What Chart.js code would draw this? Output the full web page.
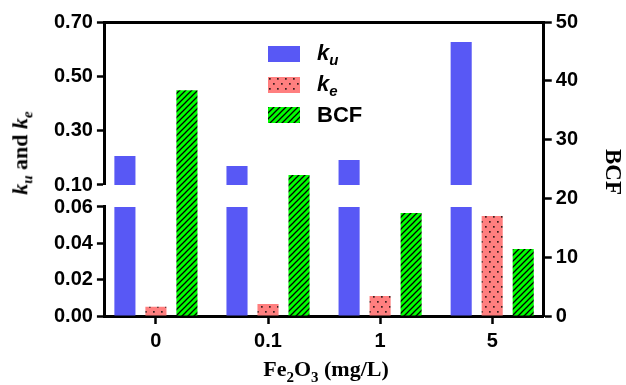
<!DOCTYPE html>
<html>
<head>
<meta charset="utf-8">
<script src="https://cdn.jsdelivr.net/npm/chart.js@4"></script>
<style>
body { margin: 0; background: #fff; }
#wrap { position: relative; width: 626px; height: 385px; }
#legend { position: absolute; left: 268px; top: 39px; font-family: "Liberation Sans", Arial, sans-serif; font-weight: bold; font-size: 22px; color: #000; }
.item { height: 30.5px; display: flex; align-items: center; }
.item canvas { width: 32px; height: 16px; margin-right: 17px; }
.item i sub { font-size: 15px; }
.title { position: absolute; font-family: "Liberation Serif", "Times New Roman", serif; font-weight: bold; font-size: 22px; white-space: nowrap; color: #000; transform: translate(-50%, -50%); }
.title sub { font-size: 15px; }
#ytitle { left: 22px; top: 153px; transform: translate(-50%, -50%) rotate(-90deg); }
#y2title { left: 613px; top: 172px; font-size: 23px; transform: translate(-50%, -50%) rotate(90deg); }
#xtitle { left: 326px; top: 371px; }
</style>
</head>
<body>
<div id="wrap">
  <canvas id="myChart"></canvas>
  <div id="legend"></div>
  <div class="title" id="ytitle"><i>k<sub>u</sub></i> and <i>k<sub>e</sub></i></div>
  <div class="title" id="y2title">BCF</div>
  <div class="title" id="xtitle">Fe<sub>2</sub>O<sub>3</sub> (mg/L)</div>
</div>
<script>
// values
var categories = ["0", "0.1", "1", "5"];
var kuValues = [0.207, 0.170, 0.192, 0.626];
var keValues = [0.0051, 0.0066, 0.011, 0.055];
var bcfValues = [38.4, 24.0, 17.5, 11.4];
var upperTicks = [0.10, 0.30, 0.50, 0.70];
var lowerTicks = [0.00, 0.02, 0.04, 0.06];
var bcfTicks = [0, 10, 20, 30, 40, 50];

function makePattern(kind) {
    var c = document.createElement('canvas');
    var g = c.getContext('2d');
    if (kind === 'dots') {
        c.width = 8; c.height = 10;
        g.fillStyle = '#ff7f7f';
        g.fillRect(0, 0, 8, 10);
        g.fillStyle = '#3a1c1c';
        g.fillRect(1, 1, 1.7, 1.7);
        g.fillRect(5, 6, 1.7, 1.7);
    } else {
        c.width = 6; c.height = 6;
        g.fillStyle = '#00ff00';
        g.fillRect(0, 0, 6, 6);
        g.strokeStyle = '#000';
        g.lineWidth = 1.3;
        g.beginPath();
        g.moveTo(-1, 7); g.lineTo(7, -1);
        g.moveTo(-4, 4); g.lineTo(4, -4);
        g.moveTo(2, 10); g.lineTo(10, 2);
        g.stroke();
    }
    return g.createPattern(c, 'repeat');
}

var kuColor = '#5858f5';
var keFill = makePattern('dots');
var bcfFill = makePattern('hatch');

var tickFont = { family: "'Liberation Sans', Arial, sans-serif", weight: 'bold', size: 20 };
var tickGrid = { display: true, drawOnChartArea: false, tickLength: 8, tickWidth: 2.5, tickColor: '#000', offset: false };
var axisBorder = { display: true, width: 3, color: '#000' };

function fixedTicks(list) {
    return function (scale) {
        scale.ticks = list.map(function (v) { return { value: v }; });
    };
}

// x runs on category positions 0..3 so the end gaps can match the figure
function points(values) {
    return values.map(function (v, i) { return { x: i, y: v }; });
}

// legend (html so the subscripts come out right)
var legendItems = [
    { fill: kuColor, html: '<i>k<sub>u</sub></i>' },
    { fill: keFill, html: '<i>k<sub>e</sub></i>' },
    { fill: bcfFill, html: 'BCF' }
];
legendItems.forEach(function (it) {
    var row = document.createElement('div');
    row.className = 'item';
    var sw = document.createElement('canvas');
    sw.width = 32; sw.height = 16;
    var g = sw.getContext('2d');
    g.fillStyle = it.fill;
    g.fillRect(0, 0, 32, 16);
    row.appendChild(sw);
    var t = document.createElement('span');
    t.innerHTML = it.html;
    row.appendChild(t);
    document.getElementById('legend').appendChild(row);
});

var barOpts = { categoryPercentage: 0.83, barPercentage: 0.68, borderWidth: 0, clip: 0 };
var leftTicks = { color: '#000', font: tickFont, padding: 4, autoSkip: false,
    callback: function (v) { return v.toFixed(2); } };

var chart = new Chart(document.getElementById('myChart'), {
    type: 'bar',
    data: {
        datasets: [
            Object.assign({ label: 'ku', data: points(kuValues), backgroundColor: kuColor, yAxisID: 'yUp', stack: 'ku' }, barOpts),
            Object.assign({ label: 'ku', data: points(kuValues), backgroundColor: kuColor, yAxisID: 'yLow', stack: 'ku' }, barOpts),
            Object.assign({ label: 'ke', data: points(keValues), backgroundColor: keFill, yAxisID: 'yLow', stack: 'ke' }, barOpts),
            Object.assign({ label: 'BCF', data: points(bcfValues), backgroundColor: bcfFill, yAxisID: 'y2', stack: 'bcf' }, barOpts)
        ]
    },
    options: {
        responsive: true,
        maintainAspectRatio: false,
        animation: false,
        layout: { padding: { left: 50, right: 44, top: 22, bottom: 27 } },
        plugins: { legend: { display: false }, tooltip: { enabled: false } },
        scales: {
            x: {
                type: 'linear', offset: false, min: -0.455, max: 3.46,
                afterBuildTicks: fixedTicks([0, 1, 2, 3]),
                grid: tickGrid,
                border: axisBorder,
                ticks: { color: '#000', font: tickFont, padding: 5, autoSkip: false,
                    callback: function (v) { return categories[v]; } }
            },
            xTop: {
                type: 'linear', axis: 'x', position: 'top',
                grid: { display: false, drawTicks: false },
                ticks: { display: false },
                border: axisBorder
            },
            yLow: {
                type: 'linear', position: 'left', stack: 'left', stackWeight: 109, weight: 1,
                min: 0, max: 0.06, stacked: false,
                afterBuildTicks: fixedTicks(lowerTicks),
                grid: tickGrid, border: axisBorder, ticks: leftTicks
            },
            yGap: {
                type: 'linear', position: 'left', stack: 'left', stackWeight: 22, weight: 2,
                display: false
            },
            yUp: {
                type: 'linear', position: 'left', stack: 'left', stackWeight: 163, weight: 3,
                min: 0.1, max: 0.7, stacked: false,
                afterBuildTicks: fixedTicks(upperTicks),
                grid: tickGrid, border: axisBorder, ticks: leftTicks
            },
            y2: {
                type: 'linear', position: 'right', min: 0, max: 50, stacked: false,
                afterBuildTicks: fixedTicks(bcfTicks),
                grid: tickGrid, border: axisBorder,
                ticks: { color: '#000', font: tickFont, padding: 4, autoSkip: false }
            }
        }
    }
});
</script>
</body>
</html>
